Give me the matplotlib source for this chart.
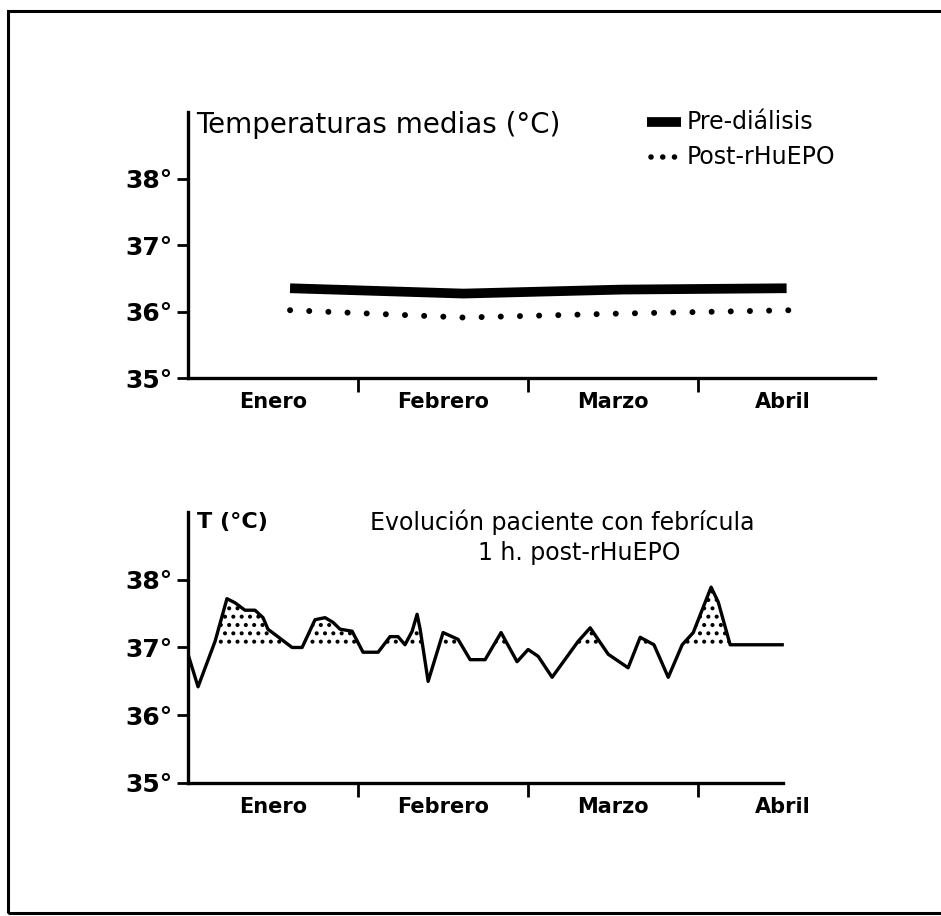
import matplotlib
matplotlib.use("Agg")
import matplotlib.pyplot as plt
from matplotlib.patches import Rectangle

plt.rcParams['font.family'] = ['DejaVu Sans']
plt.rcParams['hatch.linewidth'] = 1.7

# --- data (x in months from start of January) ---
months = ["Enero", "Febrero", "Marzo", "Abril"]
yticks = [35, 36, 37, 38]
ytick_labels = ["35°", "36°", "37°", "38°"]

mean_x = [0.6, 1.62, 2.55, 3.52]
pre_dialisis = [36.35, 36.27, 36.33, 36.35]
post_x = [0.6, 1.62, 2.55, 3.55]
post_rhuepo = [36.02, 35.91, 35.97, 36.02]

pac_x = [0.0, 0.059, 0.159, 0.229, 0.276, 0.335, 0.394, 0.441, 0.47, 0.612,
         0.671, 0.747, 0.806, 0.853, 0.894, 0.965, 1.029, 1.118, 1.188, 1.235,
         1.276, 1.318, 1.347, 1.365, 1.412, 1.5, 1.588, 1.659, 1.747, 1.841,
         1.935, 2.0, 2.059, 2.141, 2.294, 2.365, 2.471, 2.588, 2.659, 2.74,
         2.824, 2.906, 2.971, 3.076, 3.118, 3.188, 3.494]
pac_t = [36.9, 36.42, 37.09, 37.72, 37.66, 37.55, 37.55, 37.44, 37.27, 37.0,
         37.0, 37.41, 37.44, 37.37, 37.27, 37.24, 36.93, 36.93, 37.16, 37.16,
         37.04, 37.24, 37.49, 37.27, 36.5, 37.22, 37.12, 36.82, 36.82, 37.22,
         36.79, 36.97, 36.87, 36.56, 37.09, 37.29, 36.9, 36.7, 37.15, 37.04,
         36.56, 37.04, 37.22, 37.89, 37.67, 37.04, 37.04]

fig = plt.figure(figsize=(9.41, 9.16), dpi=100)

# outer frame (right edge falls outside the picture)
fig.patches.append(Rectangle((8 / 941, 1 - 913 / 916), 1.05, 902 / 916,
                             transform=fig.transFigure, fill=False,
                             edgecolor="black", linewidth=2.2))


def style_axis(ax, xend):
    ax.set_xlim(0, 4.04)
    ax.set_ylim(35, 39)
    for s in ["top", "right"]:
        ax.spines[s].set_visible(False)
    ax.spines["left"].set_linewidth(2.4)
    ax.spines["bottom"].set_linewidth(2.4)
    ax.spines["bottom"].set_bounds(0, xend)
    ax.set_yticks(yticks)
    ax.set_yticklabels(ytick_labels, fontsize=18, fontweight="bold")
    ax.tick_params(axis="y", length=8, width=2, pad=3)
    ax.set_xticks([1, 2, 3])
    ax.set_xticklabels([])
    ax.tick_params(axis="x", which="major", length=10, width=2)
    ax.set_xticks([0.5, 1.5, 2.5, 3.5], minor=True)
    ax.set_xticklabels(months, minor=True, fontsize=15, fontweight="bold")
    ax.tick_params(axis="x", which="minor", length=0, pad=10)


# --- top: mean temperatures ---
ax1 = fig.add_axes([0.1998, 0.5873, 0.7301, 0.2904])
style_axis(ax1, 4.04)
ax1.plot(mean_x, pre_dialisis, color="black", linewidth=7, solid_capstyle="butt")
ax1.plot(post_x, post_rhuepo, color="black", linewidth=4.3,
         linestyle=(0, (0.01, 3.2)), dash_capstyle="round")
ax1.text(0.05, 38.8, "Temperaturas medias (°C)", fontsize=20, va="center", ha="left")

# legend drawn by hand
ax1.plot([2.7, 2.9], [38.85, 38.85], color="black", linewidth=7, solid_capstyle="butt")
ax1.text(2.93, 38.85, "Pre-diálisis", fontsize=17, va="center", ha="left")
ax1.plot([2.72, 2.87], [38.32, 38.32], color="black", linewidth=4.0,
         linestyle=(0, (0.01, 2.1)), dash_capstyle="round")
ax1.text(2.93, 38.32, "Post-rHuEPO", fontsize=17, va="center", ha="left")

# --- bottom: patient evolution ---
ax2 = fig.add_axes([0.1998, 0.1452, 0.7301, 0.2959])
style_axis(ax2, 3.5)
ax2.fill_between(pac_x, 37, pac_t, where=[t >= 37 for t in pac_t], interpolate=True,
                 facecolor="none", edgecolor="black", hatch="..", linewidth=0)
ax2.plot(pac_x, pac_t, color="black", linewidth=2.4)
ax2.text(0.05, 38.85, "T (°C)", fontsize=16, fontweight="bold", va="center", ha="left")
ax2.text(2.2, 38.85, "Evolución paciente con febrícula", fontsize=17, va="center", ha="center")
ax2.text(2.3, 38.4, "1 h. post-rHuEPO", fontsize=17, va="center", ha="center")

fig.savefig("out.png", dpi=100)
